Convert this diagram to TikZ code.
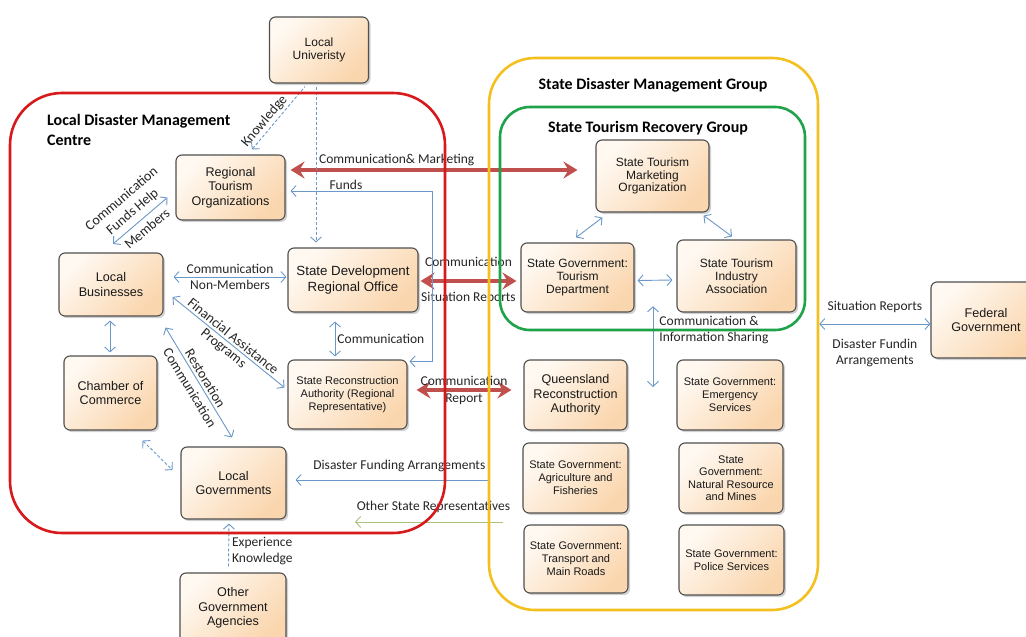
\documentclass[tikz,border=0pt]{standalone}
\usepackage{fontspec}
\setmainfont{Carlito}
\newfontfamily\boxfont{Liberation Sans}
\usetikzlibrary{arrows.meta,shadows}
\pgfdeclarelayer{front}
\pgfsetlayers{main,front}

\definecolor{boxline}{HTML}{4F4F4F}
\definecolor{boxtop}{HTML}{FFF9F2}
\definecolor{boxbot}{HTML}{FAD6AE}
\definecolor{linkblue}{HTML}{6A98C8}
\definecolor{bigred}{HTML}{C0504D}
\definecolor{ldmcred}{HTML}{D7191C}
\definecolor{sdmgyellow}{HTML}{F4C020}
\definecolor{strggreen}{HTML}{1FA34A}
\definecolor{otherolive}{HTML}{A9C27C}
\definecolor{labeltext}{HTML}{262626}

\begin{document}
\begin{tikzpicture}[x=1pt,y=-1pt,
  >={Straight Barb[length=5pt,width=11pt]},
  agency/.style={draw=boxline, line width=1.1pt, rounded corners=6pt,
    top color=boxtop, bottom color=boxbot, shading angle=45,
    drop shadow={shadow xshift=2pt, shadow yshift=-2pt, opacity=0.18, fill=black},
    align=center, inner sep=2pt, text=black!90},
  fsA/.style={font=\boxfont\fontsize{13.3}{15.7}\selectfont},
  fsB/.style={font=\boxfont\fontsize{12.6}{14.5}\selectfont},
  fsC/.style={font=\boxfont\fontsize{12}{12.8}\selectfont},
  fsD/.style={font=\boxfont\fontsize{11}{13}\selectfont},
  fsE/.style={font=\boxfont\fontsize{11}{12.5}\selectfont},
  group/.style={line width=2.6pt, inner sep=0pt, fill=none},
  title/.style={font=\bfseries\fontsize{16}{20}\selectfont, text=black, inner sep=0pt},
  lbl/.style={font=\fontsize{13.5}{16}\selectfont, text=labeltext, inner sep=1pt},
  lbl2/.style={font=\fontsize{14}{17}\selectfont, text=labeltext, inner sep=1pt},
  thinlink/.style={draw=linkblue, line width=0.9pt},
  dashlink/.style={thinlink, dash pattern=on 3pt off 2pt},
  olivelink/.style={draw=otherolive, line width=0.9pt},
  bigarrow/.style={draw=bigred, line width=4pt,
    {Stealth[length=14pt,width=17pt,inset=5pt]}-{Stealth[length=14pt,width=17pt,inset=5pt]}}
]
\useasboundingbox (0,0) rectangle (1026,637);
\clip (0,0) rectangle (1026,637);
\fill[white] (0,0) rectangle (1026,637);

% group outlines, drawn above the links
\begin{pgfonlayer}{front}
\node[group, draw=ldmcred, rounded corners=52pt, minimum width=435pt, minimum height=440pt] (ldmc) at (227.5,313) {};
\node[group, draw=sdmgyellow, rounded corners=46pt, minimum width=329pt, minimum height=552pt] (sdmg) at (653.5,334) {};
\node[group, draw=strggreen, rounded corners=30pt, minimum width=305pt, minimum height=223pt] (strg) at (652.5,218.5) {};
\end{pgfonlayer}

% group titles
\node[title, anchor=west, align=left] (ldmcTitle) at (47,130) {Local Disaster Management\\Centre};
\node[title] (sdmgTitle) at (653,85) {State Disaster Management Group};
\node[title] (strgTitle) at (648,128) {State Tourism Recovery Group};

% agencies
\node[agency,fsC,minimum width=99pt,minimum height=66pt] (univ) at (319,50) {Local\\Univeristy};
\node[agency,fsB,minimum width=109pt,minimum height=65pt] (rto) at (230.5,187.5) {Regional\\Tourism\\Organizations};
\node[agency,fsB,minimum width=104pt,minimum height=63pt] (lb) at (111,284.5) {Local\\Businesses};
\node[agency,fsA,minimum width=130pt,minimum height=64pt] (sdro) at (353,280) {State Development\\Regional Office};
\node[agency,fsB,minimum width=93pt,minimum height=74pt] (coc) at (110.5,393) {Chamber of\\Commerce};
\node[agency,fsD,minimum width=119pt,minimum height=69pt] (sra) at (347.5,394.5) {State Reconstruction\\Authority (Regional\\Representative)};
\node[agency,fsB,minimum width=105pt,minimum height=72pt] (lg) at (233.5,483) {Local\\Governments};
\node[agency,fsB,minimum width=106pt,minimum height=70pt] (oga) at (233,608) {Other\\Government\\Agencies};
\node[agency,fsC,minimum width=113pt,minimum height=72pt] (stmo) at (652.5,176) {State Tourism\\Marketing\\Organization};
\node[agency,fsC,minimum width=113pt,minimum height=69pt] (sgtd) at (577.5,277.5) {State Government:\\Tourism\\Department};
\node[agency,fsC,minimum width=119pt,minimum height=72pt] (stia) at (736.5,276) {State Tourism\\Industry\\Association};
\node[agency,fsB,minimum width=103pt,minimum height=70pt] (qra) at (575.5,395) {Queensland\\Reconstruction\\Authority};
\node[agency,fsD,minimum width=106pt,minimum height=70pt] (sges) at (730,395) {State Government:\\Emergency\\Services};
\node[agency,fsD,minimum width=105pt,minimum height=70pt] (sgaf) at (575.5,478) {State Government:\\Agriculture and\\Fisheries};
\node[agency,fsE,minimum width=104pt,minimum height=70pt] (sgnr) at (731,478) {State\\Government:\\Natural Resource\\and Mines};
\node[agency,fsD,minimum width=104pt,minimum height=68pt] (sgtr) at (576,559) {State Government:\\Transport and\\Main Roads};
\node[agency,fsD,minimum width=105pt,minimum height=70pt] (sgps) at (731.5,560) {State Government:\\Police Services};
\node[agency,fsB,minimum width=110pt,minimum height=76pt] (fed) at (986,320) {Federal\\Government};

% main communication channels
\draw[bigarrow] ([shift={(5,-17.5)}]rto.east) -- node[lbl,above=1.5pt,pos=0.37]{Communication\& Marketing} ([shift={(-18,-6)}]stmo.west);
\draw[bigarrow] ([shift={(2,1)}]sdro.east) -- node[lbl,above=11pt]{Communication} node[lbl,below=8pt]{Situation Reports} ([shift={(-4,3.5)}]sgtd.west);
\draw[bigarrow] ([shift={(9,-4.5)}]sra.east) -- node[lbl,above=1pt]{Communication} node[lbl,below=1pt]{Report} ([shift={(-12,-5)}]qra.west);

% local links
\draw[thinlink,<->] ([shift={(5,3.5)}]rto.east) -- node[lbl,above,pos=0.39]{Funds} ++(142,0) |- ([shift={(2,2)}]sra.north east);
\draw[thinlink,<->] ([shift={(2,-8.5)}]lb.north) -- node[lbl2,above=4pt,sloped,align=center]{Communication\\Funds Help} node[lbl2,below=4pt,sloped]{Members} ([shift={(-8,10)}]rto.west);
\draw[thinlink,<->] ([shift={(10,-7.5)}]lb.east) -- node[lbl,above=2pt]{Communication} node[lbl,below=2pt]{Non-Members} ([shift={(-1,-3)}]sdro.west);
\draw[thinlink,<->] ([shift={(9,12.5)}]lb.east) -- node[lbl2,above=1.5pt,sloped]{Financial Assistance} node[lbl2,below=1.5pt,sloped]{Programs} ([shift={(-3,-7)}]sra.west);
\draw[thinlink,<->] ([shift={(2,11)}]lb.south east) -- node[lbl2,above=1.5pt,sloped]{Restoration} node[lbl2,below=4pt,sloped]{Communication} ([shift={(-1.5,-9)}]lg.north);
\draw[thinlink,<->] ([shift={(-1,4)}]lb.south) -- ([shift={(-0.5,-3)}]coc.north);
\draw[thinlink,<->] ([shift={(-18,9)}]sdro.south) -- node[lbl,right=1pt]{Communication} ([shift={(-12.5,-3)}]sra.north);
\draw[dashlink,<->] ([shift={(-15,10)}]coc.south east) -- ([shift={(-8,-13)}]lg.west);
\draw[dashlink,<-] ([shift={(21.5,-5)}]rto.north) -- node[lbl2,above=1pt,sloped,pos=0.36]{Knowledge} ([shift={(-14,3)}]univ.south);
\draw[dashlink,->] ([shift={(-3,3)}]univ.south) -- ([shift={(-37,-5)}]sdro.north);
\draw[dashlink,->] ([shift={(-4.5,-6)}]oga.north) -- node[lbl,right=2pt,pos=0.36,align=left]{Experience\\Knowledge} ([shift={(-4.5,4)}]lg.south);

% state level links
\draw[thinlink,<-] ([shift={(9,-3)}]lg.east) -- node[lbl,above=7pt,pos=0.54]{Disaster Funding Arrangements} ([shift={(0,146)}]sdmg.west);
\coordinate (osrTail) at (503,522);
\coordinate (osrHead) at (355,522);
\draw[olivelink,->] (osrTail) -- node[lbl,above=8pt,pos=0.47]{Other State Representatives} (osrHead);
\draw[thinlink,<->] ([shift={(0,-10)}]sdmg.east) -- node[lbl,above=10pt]{Situation Reports} node[lbl,below=14pt,align=center]{Disaster Fundin\\Arrangements} ([shift={(0,4)}]fed.west);
\coordinate (infoEnd) at (653,387);
\draw[thinlink,<->] ([shift={(0.5,-25)}]strg.south) -- node[lbl,right=5pt,pos=0.29,align=left]{Communication \&\\Information Sharing} (infoEnd);

% tourism recovery links
\draw[thinlink,<->] ([shift={(7,5)}]stmo.south west) -- ([shift={(-1.5,-5)}]sgtd.north);
\draw[thinlink,<->] ([shift={(-6,3)}]stmo.south east) -- ([shift={(-4.5,-3)}]stia.north);
\draw[thinlink,<->] ([shift={(3,3)}]sgtd.east) -- ([shift={(-4,4)}]stia.west);
\end{tikzpicture}
\end{document}
